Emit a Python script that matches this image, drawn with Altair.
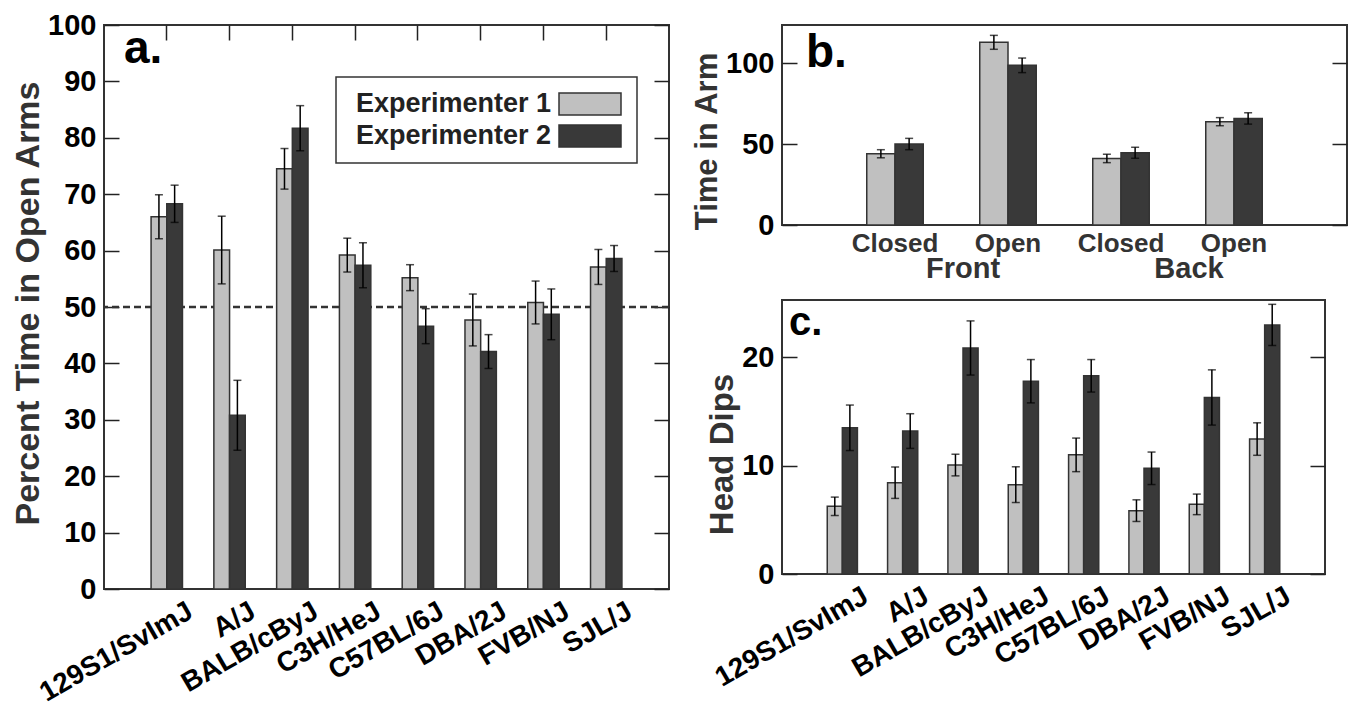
import altair as alt
import pandas as pd

FONT = "Liberation Sans"

# ---------------- data ----------------
series = ["Experimenter 1", "Experimenter 2"]
series_colors = ["#c0c0c0", "#393939"]

strains = ["129S1/SvImJ", "A/J", "BALB/cByJ", "C3H/HeJ",
           "C57BL/6J", "DBA/2J", "FVB/NJ", "SJL/J"]

# panel a: percent time in open arms
pct_e1 = [66.0, 60.1, 74.5, 59.2, 55.2, 47.7, 50.8, 57.1]
pct_e1_err = [3.9, 6.0, 3.6, 3.0, 2.3, 4.6, 3.8, 3.1]
pct_e2 = [68.3, 30.8, 81.7, 57.4, 46.6, 42.1, 48.7, 58.6]
pct_e2_err = [3.3, 6.2, 4.0, 4.0, 3.1, 3.0, 4.5, 2.3]
pct_ticks = [0, 10, 20, 30, 40, 50, 60, 70, 80, 90, 100]
pct_ref = [50]

# panel b: time in arm
arm_cats = ["Front Closed", "Front Open", "Back Closed", "Back Open"]
arm_groups = ["Front", "Back"]
arm_group_first = ["Front Closed", "Back Closed"]
arm_e1 = [44.0, 112.8, 41.1, 63.8]
arm_e1_err = [2.5, 4.3, 2.6, 2.5]
arm_e2 = [50.0, 98.6, 44.6, 65.8]
arm_e2_err = [3.5, 4.5, 3.4, 3.5]
arm_ticks = [0, 50, 100]

# panel c: head dips
dips_e1 = [6.25, 8.43, 10.06, 8.25, 11.0, 5.85, 6.43, 12.46]
dips_e1_err = [0.85, 1.45, 1.0, 1.65, 1.55, 1.0, 0.95, 1.5]
dips_e2 = [13.5, 13.2, 20.87, 17.8, 18.3, 9.76, 16.3, 23.0]
dips_e2_err = [2.1, 1.6, 2.5, 2.0, 1.5, 1.5, 2.55, 1.9]
dips_ticks = [0, 10, 20]


def long_table(cats, m1, e1, m2, e2):
    rows = []
    for i, c in enumerate(cats):
        for s, m, e in ((series[0], m1[i], e1[i]), (series[1], m2[i], e2[i])):
            rows.append({"cat": c, "series": s, "value": m, "lo": m - e, "hi": m + e})
    return pd.DataFrame(rows)


df_a = long_table(strains, pct_e1, pct_e1_err, pct_e2, pct_e2_err)
df_b = long_table(arm_cats, arm_e1, arm_e1_err, arm_e2, arm_e2_err)
df_c = long_table(strains, dips_e1, dips_e1_err, dips_e2, dips_e2_err)

strain_axis = alt.Axis(orient="bottom", labelAngle=330, labelAlign="right",
                       labelBaseline="top", labelOffset=17, labelPadding=8,
                       ticks=False, tickSize=0, domain=False, grid=False,
                       labelFont=FONT, labelFontSize=28, labelFontWeight="bold",
                       labelColor="black", labelLimit=400)

arm_axis = alt.Axis(orient="bottom", labelAngle=0, labelAlign="center",
                    labelBaseline="top", labelPadding=5,
                    labelExpr="split(datum.label, ' ')[1]",
                    ticks=False, tickSize=0, domain=False, grid=False,
                    labelFont=FONT, labelFontSize=26, labelFontWeight="bold",
                    labelColor="#333", labelLimit=400)


def panel(df, cats, y_domain, y_values, W, H, y_title, title_size, title_y, x_axis,
          letter, letter_size, letter_x, letter_y, top_ticks=False,
          before=None, after=None):
    xs = alt.Scale(domain=cats, paddingInner=0.5, paddingOuter=0.75)
    ys = alt.Scale(domain=y_domain, nice=False, zero=False)
    xo = alt.Scale(domain=series, paddingInner=0, paddingOuter=0)
    base = alt.Chart(df)

    def X(axis):
        return alt.X("cat:N", scale=xs, sort=cats, title=None, axis=axis)

    XO = alt.XOffset("series:N", scale=xo, sort=series)
    tick_common = dict(labels=False, domain=False, grid=False, ticks=True,
                       tickSize=15, tickWidth=1.5, tickColor="#222", title=None)

    yaxis_kw = dict(orient="left", values=y_values, ticks=False, tickSize=0,
                    domain=False, grid=False, labelFont=FONT, labelFontSize=29,
                    labelFontWeight="bold", labelColor="black", labelPadding=8,
                    title=y_title, titleFont=FONT, titleFontSize=title_size,
                    titleFontWeight="bold", titleColor="#333", titlePadding=2,
                    titleY=title_y)

    bars = base.mark_bar(stroke="#333", strokeWidth=1.5).encode(
        x=X(x_axis),
        xOffset=XO,
        y=alt.Y("value:Q", scale=ys, axis=alt.Axis(**yaxis_kw)),
        fill=alt.Fill("series:N", scale=alt.Scale(domain=series, range=series_colors),
                      legend=None),
    )
    rules = base.mark_rule(color="black", strokeWidth=1.5).encode(
        x=X(alt.Axis(orient="bottom", offset=-H, **tick_common) if top_ticks else None),
        xOffset=XO,
        y=alt.Y("lo:Q", scale=ys,
                axis=alt.Axis(orient="right", offset=-W, values=y_values, **tick_common)),
        y2="hi:Q",
    )
    cap_lo = base.mark_tick(color="black", thickness=1.5, size=8, orient="horizontal").encode(
        x=X(None), xOffset=XO,
        y=alt.Y("lo:Q", scale=ys,
                axis=alt.Axis(orient="left", offset=-W, values=y_values, **tick_common)),
    )
    cap_hi = base.mark_tick(color="black", thickness=1.5, size=8, orient="horizontal").encode(
        x=X(None), xOffset=XO,
        y=alt.Y("hi:Q", scale=ys, axis=None),
    )
    letter_layer = alt.Chart(pd.DataFrame({"t": [letter]})).mark_text(
        font=FONT, fontSize=letter_size, fontWeight="bold", align="left",
        baseline="alphabetic", color="black"
    ).encode(text="t:N", x=alt.value(letter_x), y=alt.value(letter_y))

    layers = []
    if before is not None:
        layers += before(xs, ys)
    layers += [bars, rules, cap_lo, cap_hi, letter_layer]
    if after is not None:
        layers += after(xs, ys)
    return alt.layer(*layers).resolve_axis(x="independent", y="independent").properties(
        width=W, height=H)


def ref_line(xs, ys):
    return [alt.Chart(pd.DataFrame({"v": pct_ref})).mark_rule(
        strokeDash=[7, 4], strokeWidth=2.5, color="#333"
    ).encode(y=alt.Y("v:Q", scale=ys, axis=None))]


def legend_layers(xs, ys):
    # boxed legend: label text followed by a colour swatch
    box = alt.Chart(pd.DataFrame({"k": [0]})).mark_rect(
        fill="white", stroke="#333", strokeWidth=1.5
    ).encode(x=alt.value(232), x2=alt.value(533), y=alt.value(52), y2=alt.value(138))
    out = [box]
    for i, (name, col) in enumerate(zip(series, series_colors)):
        d = pd.DataFrame({"s": [name]})
        top = 68 + 32 * i
        out.append(alt.Chart(d).mark_rect(fill=col, stroke="#333", strokeWidth=1.5).encode(
            x=alt.value(455), x2=alt.value(517), y=alt.value(top), y2=alt.value(top + 22)))
        out.append(alt.Chart(d).mark_text(
            font=FONT, fontSize=27, fontWeight="bold", color="#222",
            align="right", baseline="middle"
        ).encode(text="s:N", x=alt.value(447), y=alt.value(top + 11)))
    return out


W_A, H_A = 565, 564
W_B, H_B = 565, 200
W_C, H_C = 543, 274


def group_labels(xs, ys):
    return [alt.Chart(pd.DataFrame({"cat": arm_group_first, "label": arm_groups})).mark_text(
        font=FONT, fontSize=29, fontWeight="bold", color="#333", dx=68,
        baseline="middle", align="center"
    ).encode(x=alt.X("cat:N", scale=xs, sort=arm_cats, axis=None),
             y=alt.value(H_B + 44), text="label:N")]


panel_a = panel(df_a, strains, [0, 100], pct_ticks, W_A, H_A,
                "Percent Time in Open Arms", 34, 278, strain_axis,
                "a.", 46, 20, 38, top_ticks=True, before=ref_line, after=legend_layers)

panel_b = panel(df_b, arm_cats, [0, 123.5], arm_ticks, W_B, H_B,
                "Time in Arm", 31, 116, arm_axis,
                "b.", 46, 24, 42, after=group_labels)

panel_c = panel(df_c, strains, [0, 25.3], dips_ticks, W_C, H_C,
                "Head Dips", 33, 154, strain_axis,
                "c.", 40, 7, 35)

right = alt.vconcat(panel_b, panel_c, spacing=14).resolve_scale(xOffset="independent")
chart = alt.hconcat(panel_a, right, spacing=18).resolve_scale(
    xOffset="independent"
).properties(
    padding={"left": 2, "top": 2, "right": 0, "bottom": 0}
).configure(font=FONT).configure_view(stroke="#333", strokeWidth=2)

chart.save("out.html", embed_options={"renderer": "svg", "actions": False})
